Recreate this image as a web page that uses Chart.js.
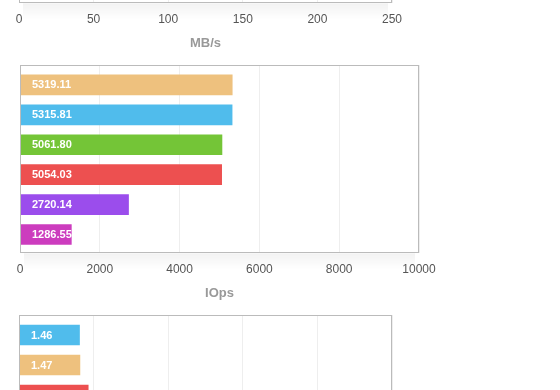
<!DOCTYPE html>
<html>
<head>
<meta charset="utf-8">
<script src="https://cdn.jsdelivr.net/npm/chart.js@4"></script>
<style>
  html, body { margin: 0; padding: 0; background: #fff; overflow: hidden; }
  body { width: 560px; height: 390px; position: relative; }
  .box { position: absolute; left: 0; width: 560px; height: 250px; }
</style>
</head>
<body>
<div class="box" style="top:-195px"><canvas id="mbs"></canvas></div>
<div class="box" style="top:55px"><canvas id="iops"></canvas></div>
<div class="box" style="top:305px; height:199px"><canvas id="lat"></canvas></div>
<script>
// throughput chart (only its axis is in view)
const mbsTicks = [0, 50, 100, 150, 200, 250];

// IOps per disk
const iopsValues = [5319.11, 5315.81, 5061.80, 5054.03, 2720.14, 1286.55];
const iopsColors = ['#EEC17E', '#50BCEC', '#74C537', '#ED5050', '#9B4DEC', '#CC3CBE'];
const iopsTicks = [0, 2000, 4000, 6000, 8000, 10000];

// latency (top of the third chart)
const latValues = [1.46, 1.47, 1.67];
const latColors = ['#50BCEC', '#EEC17E', '#ED5050'];

const boxPlugin = {
  id: 'box',
  beforeDraw(chart) {
    const { ctx, chartArea: a } = chart;
    ctx.save();
    const g = ctx.createLinearGradient(0, a.bottom, 0, a.bottom + 16);
    g.addColorStop(0, 'rgba(0,0,0,0.05)');
    g.addColorStop(1, 'rgba(0,0,0,0)');
    ctx.fillStyle = g;
    ctx.fillRect(a.left + 4, a.bottom, a.right - a.left - 8, 16);
    ctx.restore();
  },
  afterDraw(chart) {
    const { ctx, chartArea: a } = chart;
    ctx.save();
    ctx.strokeStyle = '#bbb';
    ctx.lineWidth = 1;
    ctx.strokeRect(Math.round(a.left) + 0.5, Math.round(a.top) + 0.5,
      Math.round(a.right - a.left) - 1, Math.round(a.bottom - a.top) - 1);
    ctx.restore();
  }
};

const valueLabels = {
  id: 'valueLabels',
  afterDatasetsDraw(chart) {
    const { ctx, chartArea: a } = chart;
    const meta = chart.getDatasetMeta(0);
    ctx.save();
    ctx.fillStyle = '#fff';
    ctx.font = 'bold 11px "Liberation Sans", Arial, sans-serif';
    ctx.textBaseline = 'middle';
    ctx.textAlign = 'left';
    meta.data.forEach((bar, i) => {
      const v = chart.data.datasets[0].data[i].x;
      ctx.fillText(v.toFixed(2), a.left + 12, bar.y + 0.5);
    });
    ctx.restore();
  }
};

function makeChart(id, values, colors, xMax, step, ticks, title, padL, padR) {
  const points = values.map((v, i) => ({ x: v, y: i }));
  return new Chart(document.getElementById(id), {
    type: 'bar',
    data: {
      datasets: [{
        data: points,
        backgroundColor: colors,
        barThickness: 20,
        borderWidth: 0
      }]
    },
    plugins: [boxPlugin, valueLabels],
    options: {
      indexAxis: 'y',
      responsive: true,
      maintainAspectRatio: false,
      animation: false,
      layout: { padding: { top: 10, bottom: 0, left: padL, right: padR } },
      plugins: { legend: { display: false }, tooltip: { enabled: false } },
      scales: {
        x: {
          type: 'linear',
          min: 0,
          max: xMax,
          afterBuildTicks: ticks ? (s) => { s.ticks = ticks.map(v => ({ value: v })); } : undefined,
          ticks: {
            display: !!ticks,
            stepSize: step,
            padding: 10,
            color: '#555',
            callback: (v) => String(v),
            font: { family: '"Liberation Sans", Arial, sans-serif', size: 12, lineHeight: 1.0 }
          },
          grid: { color: '#eee', drawTicks: false },
          border: { display: false },
          title: {
            display: !!title,
            text: title,
            color: '#999',
            padding: { top: 0, bottom: 4 },
            font: { family: '"Liberation Sans", Arial, sans-serif', size: 13, weight: 'bold' }
          }
        },
        y: {
          type: 'linear',
          display: false,
          offset: false,
          reverse: true,
          min: -0.667,
          max: 5.633
        }
      }
    }
  });
}

makeChart('mbs', [], [], 250, 50, mbsTicks, 'MB/s', 19, 168);
makeChart('iops', iopsValues, iopsColors, 10000, 2000, iopsTicks, 'IOps', 20, 141);
makeChart('lat', latValues, latColors, 9, 1.8, null, '', 19, 168);
</script>
</body>
</html>
